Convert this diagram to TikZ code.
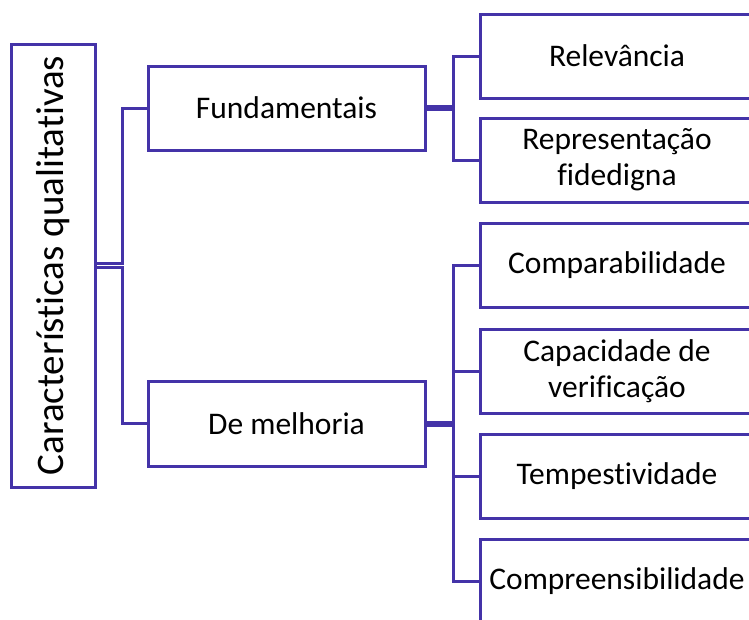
\documentclass[tikz,border=0pt]{standalone}
\usepackage{fontspec}
\setmainfont[Ligatures=NoCommon]{Carlito}
\definecolor{linha}{RGB}{68,51,168}
\tikzset{caixa/.style={draw=linha, line width=3pt, minimum width=274pt, minimum height=84pt,
    align=center, inner sep=0pt, font=\fontsize{31.5}{36}\selectfont},
  liga/.style={draw=linha, line width=3pt}}

\begin{document}
\begin{tikzpicture}[x=1pt,y=-1pt]
  \useasboundingbox (0,0) rectangle (749,619);
  \clip (0,0) rectangle (749,619);

  \node[caixa, minimum width=84pt, minimum height=443pt] (raiz) at (53,265.5)
    {\fontsize{39}{44}\selectfont\rotatebox{90}{Características qualitativas}};
  \node[caixa, minimum width=277pt] (fund) at (286.5,108) {Fundamentais};
  \node[caixa, minimum width=277pt, minimum height=85pt] (melh) at (286.5,423.5) {De melhoria};

  \node[caixa] (rel) at (617,56) {Relevância};
  \node[caixa] (rep) at (617,160) {Representação\\fidedigna};
  \foreach \nome/\y/\txt in {comp/265.5/Comparabilidade, cap/371/{Capacidade de\\verificação},
      temp/476/Tempestividade, compr/581/Compreensibilidade}
    {\node[caixa] (\nome) at (617,\y) {\txt};}

  \draw[liga] ([yshift=2pt]raiz.east) -- ++(26,0) |- (fund.west);
  \draw[liga] ([yshift=-2pt]raiz.east) -- ++(26,0) |- (melh.west);

  \draw[liga] ([yshift=1.5pt]fund.east) -- ++(27,0) |- (rel.west);
  \draw[liga] ([yshift=-1.5pt]fund.east) -- ++(27,0) |- (rep.west);

  \foreach \f in {comp,cap}
    {\draw[liga] ([yshift=1.5pt]melh.east) -- ++(27,0) |- (\f.west);}
  \foreach \f in {temp,compr}
    {\draw[liga] ([yshift=-1.5pt]melh.east) -- ++(27,0) |- (\f.west);}
\end{tikzpicture}
\end{document}
